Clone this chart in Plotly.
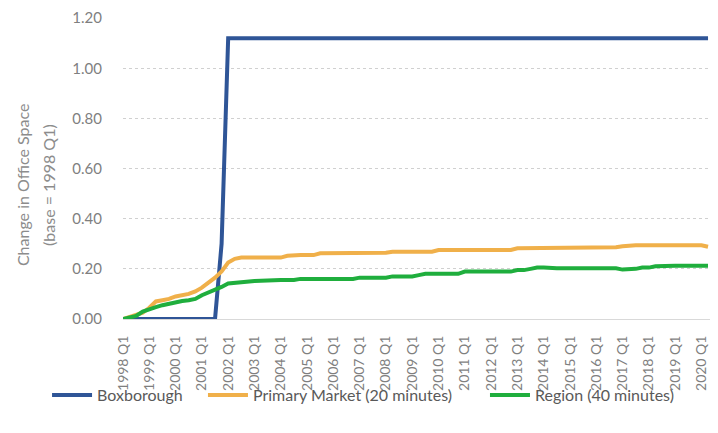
import plotly.graph_objects as go

years = list(range(1998, 2021))
quarters = [f"{y} Q{q}" for y in years for q in range(1, 5)][:90]  # 1998 Q1 .. 2020 Q2

boxborough = [0.0] * 15 + [0.30] + [1.12] * 74

primary = [0.000, 0.008, 0.020, 0.025, 0.045, 0.070, 0.075, 0.080, 0.090, 0.095,
           0.100, 0.110, 0.125, 0.145, 0.165, 0.190, 0.225, 0.240, 0.245, 0.245,
           0.245, 0.245, 0.245, 0.245, 0.245, 0.252, 0.255, 0.255, 0.255, 0.255,
           0.262, 0.262, 0.262, 0.262, 0.262, 0.262, 0.262, 0.262, 0.262, 0.262,
           0.264, 0.268, 0.268, 0.268, 0.268, 0.268, 0.268, 0.268, 0.275, 0.275,
           0.275, 0.275, 0.275, 0.275, 0.275, 0.275, 0.275, 0.275, 0.275, 0.275,
           0.282, 0.282, 0.282, 0.282, 0.286, 0.286, 0.286, 0.286, 0.286, 0.286,
           0.286, 0.286, 0.286, 0.286, 0.286, 0.286, 0.290, 0.294, 0.294, 0.294,
           0.294, 0.294, 0.294, 0.294, 0.294, 0.294, 0.294, 0.294, 0.294, 0.288]

region = [0.000, 0.005, 0.012, 0.030, 0.040, 0.047, 0.055, 0.062, 0.067, 0.072,
          0.075, 0.080, 0.095, 0.105, 0.115, 0.128, 0.142, 0.145, 0.148, 0.150,
          0.152, 0.153, 0.155, 0.156, 0.156, 0.156, 0.156, 0.160, 0.160, 0.160,
          0.160, 0.160, 0.160, 0.160, 0.160, 0.160, 0.165, 0.165, 0.165, 0.165,
          0.165, 0.170, 0.170, 0.170, 0.170, 0.175, 0.180, 0.180, 0.180, 0.180,
          0.180, 0.180, 0.189, 0.189, 0.189, 0.189, 0.189, 0.189, 0.189, 0.189,
          0.195, 0.195, 0.200, 0.205, 0.205, 0.202, 0.202, 0.202, 0.202, 0.202,
          0.202, 0.202, 0.202, 0.202, 0.202, 0.202, 0.197, 0.197, 0.200, 0.205,
          0.205, 0.210, 0.212, 0.212, 0.212, 0.212, 0.212, 0.212, 0.212, 0.212]

series_names = ["Boxborough", "Primary Market (20 minutes)", "Region (40 minutes)"]
colors = ["#2f5597", "#f0b04a", "#1fae3d"]

y_ticks = [0, 0.2, 0.4, 0.6, 0.8, 1.0, 1.2]
y_title_lines = ["Change in Office Space", "(base = 1998 Q1)"]

idx = list(range(len(quarters)))
legend_ids = ["legend", "legend2", "legend3"]
legend_x = [0.055, 0.2746, 0.6718]

fig = go.Figure()
for name, vals, col, lg in zip(series_names, [boxborough, primary, region], colors, legend_ids):
    fig.add_trace(go.Scatter(x=idx, y=vals, mode="lines", name=name, legend=lg,
                             line=dict(color=col, width=4)))

font_family = "Lato, Open Sans, Liberation Sans, sans-serif"
legend_common = dict(orientation="h", xref="container", yref="container",
                     xanchor="left", y=0.089, yanchor="middle",
                     font=dict(size=16, color="#595959"), itemwidth=40,
                     bgcolor="rgba(0,0,0,0)")

# y-axis title as two rotated text lines
for line_text, xp in zip(y_title_lines, [-0.172, -0.128]):
    fig.add_annotation(text=line_text, xref="paper", yref="paper",
                       x=xp, y=0.445, xanchor="center", yanchor="middle",
                       textangle=-90, showarrow=False,
                       font=dict(size=16, color="#8c8c8c", family=font_family))

fig.update_layout(
    width=710, height=425,
    margin=dict(l=115, r=8, t=10, b=114, autoexpand=False),
    paper_bgcolor="white", plot_bgcolor="white",
    font=dict(family=font_family, color="#595959", size=14),
    showlegend=True,
    legend=dict(x=legend_x[0], **legend_common),
    legend2=dict(x=legend_x[1], **legend_common),
    legend3=dict(x=legend_x[2], **legend_common),
    xaxis=dict(range=[0, 89.3], tickmode="array",
               tickvals=idx[::4], ticktext=quarters[::4],
               tickangle=-90, tickfont=dict(size=14, color="#7f7f7f"),
               showgrid=False, showline=True, linecolor="#d9d9d9", linewidth=1,
               ticks="", zeroline=False, ticklabelstandoff=10),
    yaxis=dict(range=[0, 1.2005], tickmode="array", tickvals=y_ticks,
               ticktext=[f"{v:.2f}" for v in y_ticks],
               tickfont=dict(size=15, color="#7f7f7f"),
               showgrid=True, gridcolor="#d0d0d0", griddash="dot", gridwidth=1,
               zeroline=False, showline=False, ticks="", ticklabelstandoff=20),
)
fig.write_html("out.html")
